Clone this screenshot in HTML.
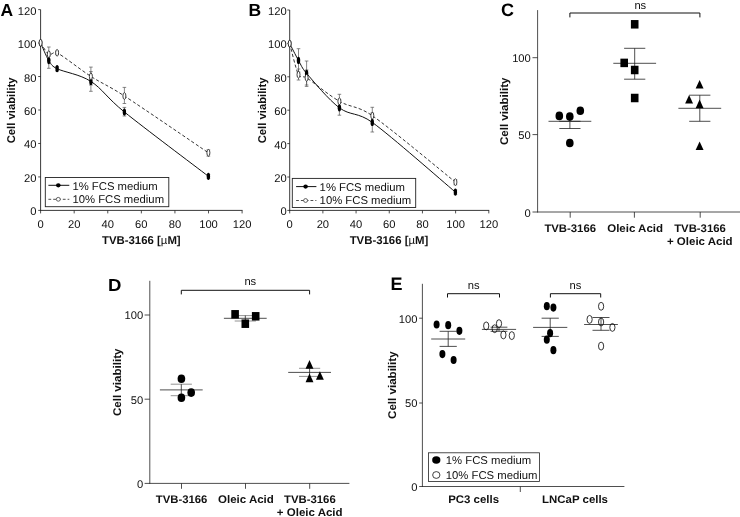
<!DOCTYPE html>
<html lang="en"><head><meta charset="utf-8"><title>Figure</title>
<style>
html,body{margin:0;padding:0;background:#fff;}
body{width:740px;height:517px;overflow:hidden;}
svg{display:block;font-family:"Liberation Sans", Arial, Helvetica, sans-serif;filter:grayscale(1);text-rendering:geometricPrecision;}
</style></head><body>
<svg width="740" height="517" viewBox="0 0 740 517">
<rect width="740" height="517" fill="#fff"/>
<text x="0.6" y="15.6" font-size="17.5" font-weight="bold" text-anchor="start" fill="#000">A</text>
<line x1="40.60" y1="9.60" x2="40.60" y2="210.80" stroke="#222" stroke-width="0.9"/>
<line x1="40.20" y1="210.40" x2="242.50" y2="210.40" stroke="#222" stroke-width="0.9"/>
<line x1="38.20" y1="210.40" x2="40.60" y2="210.40" stroke="#222" stroke-width="0.8"/>
<text x="36.5" y="215.4" font-size="11.2" text-anchor="end" fill="#111">0</text>
<line x1="40.60" y1="210.40" x2="40.60" y2="213.40" stroke="#222" stroke-width="0.8"/>
<text x="40.6" y="227.8" font-size="11.2" text-anchor="middle" fill="#111">0</text>
<line x1="38.20" y1="176.93" x2="40.60" y2="176.93" stroke="#222" stroke-width="0.8"/>
<text x="36.5" y="181.93" font-size="11.2" text-anchor="end" fill="#111">20</text>
<line x1="74.18" y1="210.40" x2="74.18" y2="213.40" stroke="#222" stroke-width="0.8"/>
<text x="74.18" y="227.8" font-size="11.2" text-anchor="middle" fill="#111">20</text>
<line x1="38.20" y1="143.47" x2="40.60" y2="143.47" stroke="#222" stroke-width="0.8"/>
<text x="36.5" y="148.47" font-size="11.2" text-anchor="end" fill="#111">40</text>
<line x1="107.77" y1="210.40" x2="107.77" y2="213.40" stroke="#222" stroke-width="0.8"/>
<text x="107.77" y="227.8" font-size="11.2" text-anchor="middle" fill="#111">40</text>
<line x1="38.20" y1="110.00" x2="40.60" y2="110.00" stroke="#222" stroke-width="0.8"/>
<text x="36.5" y="115.0" font-size="11.2" text-anchor="end" fill="#111">60</text>
<line x1="141.35" y1="210.40" x2="141.35" y2="213.40" stroke="#222" stroke-width="0.8"/>
<text x="141.35" y="227.8" font-size="11.2" text-anchor="middle" fill="#111">60</text>
<line x1="38.20" y1="76.53" x2="40.60" y2="76.53" stroke="#222" stroke-width="0.8"/>
<text x="36.5" y="81.53" font-size="11.2" text-anchor="end" fill="#111">80</text>
<line x1="174.93" y1="210.40" x2="174.93" y2="213.40" stroke="#222" stroke-width="0.8"/>
<text x="174.93" y="227.8" font-size="11.2" text-anchor="middle" fill="#111">80</text>
<line x1="38.20" y1="43.07" x2="40.60" y2="43.07" stroke="#222" stroke-width="0.8"/>
<text x="36.5" y="48.07" font-size="11.2" text-anchor="end" fill="#111">100</text>
<line x1="208.52" y1="210.40" x2="208.52" y2="213.40" stroke="#222" stroke-width="0.8"/>
<text x="208.52" y="227.8" font-size="11.2" text-anchor="middle" fill="#111">100</text>
<line x1="38.20" y1="9.60" x2="40.60" y2="9.60" stroke="#222" stroke-width="0.8"/>
<text x="36.5" y="14.6" font-size="11.2" text-anchor="end" fill="#111">120</text>
<line x1="242.10" y1="210.40" x2="242.10" y2="213.40" stroke="#222" stroke-width="0.8"/>
<text x="242.1" y="227.8" font-size="11.2" text-anchor="middle" fill="#111">120</text>
<text x="141.3" y="244.2" font-size="11.4" font-weight="bold" text-anchor="middle" fill="#111">TVB-3166 [<tspan font-weight="normal">µ</tspan>M]</text>
<text x="14.6" y="110.4" font-size="11.3" font-weight="bold" text-anchor="middle" fill="#111" transform="rotate(-90 14.6 110.4)">Cell viability</text>
<path d="M40.60,42.80 C41.97,44.70 46.05,52.53 48.80,54.20 C51.55,55.87 53.38,50.84 57.10,52.80 C64.12,56.50 79.68,69.20 90.90,76.40 C102.12,83.60 108.13,85.42 124.40,96.00 C143.98,108.73 194.40,143.33 208.40,152.80" fill="none" stroke="#111" stroke-width="0.85" stroke-dasharray="3.2 2.2"/>
<path d="M40.60,42.80 C41.97,45.77 46.05,56.28 48.80,60.60 C51.55,64.92 51.90,66.13 57.10,68.70 C64.12,72.17 79.68,74.18 90.90,81.40 C102.12,88.62 106.75,97.75 124.40,112.00 C143.98,127.82 194.40,165.58 208.40,176.30" fill="none" stroke="#111" stroke-width="1"/>
<line x1="48.80" y1="56.00" x2="48.80" y2="68.30" stroke="#555" stroke-width="0.7"/>
<line x1="47.00" y1="56.00" x2="50.60" y2="56.00" stroke="#555" stroke-width="0.7"/>
<line x1="47.00" y1="68.30" x2="50.60" y2="68.30" stroke="#555" stroke-width="0.7"/>
<line x1="57.10" y1="66.80" x2="57.10" y2="70.80" stroke="#555" stroke-width="0.7"/>
<line x1="55.30" y1="66.80" x2="58.90" y2="66.80" stroke="#555" stroke-width="0.7"/>
<line x1="55.30" y1="70.80" x2="58.90" y2="70.80" stroke="#555" stroke-width="0.7"/>
<line x1="90.90" y1="71.60" x2="90.90" y2="91.30" stroke="#555" stroke-width="0.7"/>
<line x1="89.10" y1="71.60" x2="92.70" y2="71.60" stroke="#555" stroke-width="0.7"/>
<line x1="89.10" y1="91.30" x2="92.70" y2="91.30" stroke="#555" stroke-width="0.7"/>
<line x1="124.40" y1="107.40" x2="124.40" y2="116.00" stroke="#555" stroke-width="0.7"/>
<line x1="122.60" y1="107.40" x2="126.20" y2="107.40" stroke="#555" stroke-width="0.7"/>
<line x1="122.60" y1="116.00" x2="126.20" y2="116.00" stroke="#555" stroke-width="0.7"/>
<line x1="208.40" y1="174.50" x2="208.40" y2="178.30" stroke="#555" stroke-width="0.7"/>
<line x1="206.60" y1="174.50" x2="210.20" y2="174.50" stroke="#555" stroke-width="0.7"/>
<line x1="206.60" y1="178.30" x2="210.20" y2="178.30" stroke="#555" stroke-width="0.7"/>
<line x1="48.80" y1="47.00" x2="48.80" y2="60.00" stroke="#555" stroke-width="0.7"/>
<line x1="47.00" y1="47.00" x2="50.60" y2="47.00" stroke="#555" stroke-width="0.7"/>
<line x1="47.00" y1="60.00" x2="50.60" y2="60.00" stroke="#555" stroke-width="0.7"/>
<line x1="57.10" y1="51.30" x2="57.10" y2="54.30" stroke="#555" stroke-width="0.7"/>
<line x1="55.30" y1="51.30" x2="58.90" y2="51.30" stroke="#555" stroke-width="0.7"/>
<line x1="55.30" y1="54.30" x2="58.90" y2="54.30" stroke="#555" stroke-width="0.7"/>
<line x1="90.90" y1="67.10" x2="90.90" y2="85.00" stroke="#555" stroke-width="0.7"/>
<line x1="89.10" y1="67.10" x2="92.70" y2="67.10" stroke="#555" stroke-width="0.7"/>
<line x1="89.10" y1="85.00" x2="92.70" y2="85.00" stroke="#555" stroke-width="0.7"/>
<line x1="124.40" y1="87.40" x2="124.40" y2="103.50" stroke="#555" stroke-width="0.7"/>
<line x1="122.60" y1="87.40" x2="126.20" y2="87.40" stroke="#555" stroke-width="0.7"/>
<line x1="122.60" y1="103.50" x2="126.20" y2="103.50" stroke="#555" stroke-width="0.7"/>
<line x1="208.40" y1="149.80" x2="208.40" y2="156.20" stroke="#555" stroke-width="0.7"/>
<line x1="206.60" y1="149.80" x2="210.20" y2="149.80" stroke="#555" stroke-width="0.7"/>
<line x1="206.60" y1="156.20" x2="210.20" y2="156.20" stroke="#555" stroke-width="0.7"/>
<ellipse cx="40.60" cy="42.80" rx="1.7" ry="3.6" fill="#000"/>
<ellipse cx="48.80" cy="60.60" rx="1.7" ry="3.6" fill="#000"/>
<ellipse cx="57.10" cy="68.70" rx="1.7" ry="3.6" fill="#000"/>
<ellipse cx="90.90" cy="81.40" rx="1.7" ry="3.6" fill="#000"/>
<ellipse cx="124.40" cy="112.00" rx="1.7" ry="3.6" fill="#000"/>
<ellipse cx="208.40" cy="176.30" rx="1.7" ry="3.6" fill="#000"/>
<ellipse cx="40.60" cy="42.80" rx="1.5" ry="3.3" fill="#fff" stroke="#111" stroke-width="0.8"/>
<ellipse cx="48.80" cy="54.20" rx="1.5" ry="3.3" fill="#fff" stroke="#111" stroke-width="0.8"/>
<ellipse cx="57.10" cy="52.80" rx="1.5" ry="3.3" fill="#fff" stroke="#111" stroke-width="0.8"/>
<ellipse cx="90.90" cy="76.40" rx="1.5" ry="3.3" fill="#fff" stroke="#111" stroke-width="0.8"/>
<ellipse cx="124.40" cy="96.00" rx="1.5" ry="3.3" fill="#fff" stroke="#111" stroke-width="0.8"/>
<ellipse cx="208.40" cy="152.80" rx="1.5" ry="3.3" fill="#fff" stroke="#111" stroke-width="0.8"/>
<rect x="45.3" y="177.5" width="123.50" height="29.20" fill="#fff" stroke="#222" stroke-width="0.9"/>
<line x1="48.40" y1="185.30" x2="69.30" y2="185.30" stroke="#111" stroke-width="1.0"/>
<ellipse cx="58.3" cy="185.3" rx="2.3" ry="2.1" fill="#000"/>
<line x1="48.40" y1="199.30" x2="69.30" y2="199.30" stroke="#222" stroke-width="0.8" stroke-dasharray="2.8 2"/>
<ellipse cx="58.3" cy="199.3" rx="2.0" ry="1.9" fill="#fff" stroke="#222" stroke-width="0.7"/>
<text x="72.4" y="189.5" font-size="11.3" text-anchor="start" fill="#111">1% FCS medium</text>
<text x="72.4" y="203.1" font-size="11.3" text-anchor="start" fill="#111">10% FCS medium</text>
<text x="248.6" y="15.6" font-size="17.5" font-weight="bold" text-anchor="start" fill="#000">B</text>
<line x1="289.70" y1="10.00" x2="289.70" y2="210.80" stroke="#222" stroke-width="0.9"/>
<line x1="289.30" y1="210.40" x2="489.20" y2="210.40" stroke="#222" stroke-width="0.9"/>
<line x1="287.30" y1="210.40" x2="289.70" y2="210.40" stroke="#222" stroke-width="0.8"/>
<text x="286.7" y="215.4" font-size="11.2" text-anchor="end" fill="#111">0</text>
<line x1="289.70" y1="210.40" x2="289.70" y2="213.40" stroke="#222" stroke-width="0.8"/>
<text x="289.7" y="227.8" font-size="11.2" text-anchor="middle" fill="#111">0</text>
<line x1="287.30" y1="177.00" x2="289.70" y2="177.00" stroke="#222" stroke-width="0.8"/>
<text x="286.7" y="182.0" font-size="11.2" text-anchor="end" fill="#111">20</text>
<line x1="322.88" y1="210.40" x2="322.88" y2="213.40" stroke="#222" stroke-width="0.8"/>
<text x="322.88" y="227.8" font-size="11.2" text-anchor="middle" fill="#111">20</text>
<line x1="287.30" y1="143.60" x2="289.70" y2="143.60" stroke="#222" stroke-width="0.8"/>
<text x="286.7" y="148.6" font-size="11.2" text-anchor="end" fill="#111">40</text>
<line x1="356.07" y1="210.40" x2="356.07" y2="213.40" stroke="#222" stroke-width="0.8"/>
<text x="356.07" y="227.8" font-size="11.2" text-anchor="middle" fill="#111">40</text>
<line x1="287.30" y1="110.20" x2="289.70" y2="110.20" stroke="#222" stroke-width="0.8"/>
<text x="286.7" y="115.2" font-size="11.2" text-anchor="end" fill="#111">60</text>
<line x1="389.25" y1="210.40" x2="389.25" y2="213.40" stroke="#222" stroke-width="0.8"/>
<text x="389.25" y="227.8" font-size="11.2" text-anchor="middle" fill="#111">60</text>
<line x1="287.30" y1="76.80" x2="289.70" y2="76.80" stroke="#222" stroke-width="0.8"/>
<text x="286.7" y="81.8" font-size="11.2" text-anchor="end" fill="#111">80</text>
<line x1="422.43" y1="210.40" x2="422.43" y2="213.40" stroke="#222" stroke-width="0.8"/>
<text x="422.43" y="227.8" font-size="11.2" text-anchor="middle" fill="#111">80</text>
<line x1="287.30" y1="43.40" x2="289.70" y2="43.40" stroke="#222" stroke-width="0.8"/>
<text x="286.7" y="48.4" font-size="11.2" text-anchor="end" fill="#111">100</text>
<line x1="455.62" y1="210.40" x2="455.62" y2="213.40" stroke="#222" stroke-width="0.8"/>
<text x="455.62" y="227.8" font-size="11.2" text-anchor="middle" fill="#111">100</text>
<line x1="287.30" y1="10.00" x2="289.70" y2="10.00" stroke="#222" stroke-width="0.8"/>
<text x="286.7" y="15.0" font-size="11.2" text-anchor="end" fill="#111">120</text>
<line x1="488.80" y1="210.40" x2="488.80" y2="213.40" stroke="#222" stroke-width="0.8"/>
<text x="488.8" y="227.8" font-size="11.2" text-anchor="middle" fill="#111">120</text>
<text x="389.0" y="244.2" font-size="11.4" font-weight="bold" text-anchor="middle" fill="#111">TVB-3166 [<tspan font-weight="normal">µ</tspan>M]</text>
<text x="266.3" y="110.4" font-size="11.3" font-weight="bold" text-anchor="middle" fill="#111" transform="rotate(-90 266.3 110.4)">Cell viability</text>
<path d="M289.70,43.60 C291.17,48.78 295.68,69.00 298.50,74.70 C300.42,78.59 302.96,75.44 306.60,77.80 C313.42,82.23 328.45,94.98 339.40,101.30 C350.35,107.62 357.57,105.44 372.30,115.70 C391.63,129.17 441.55,171.03 455.40,182.10" fill="none" stroke="#111" stroke-width="0.85" stroke-dasharray="3.2 2.2"/>
<path d="M289.70,43.60 C291.17,46.40 295.68,55.43 298.50,60.40 C301.32,65.37 301.60,67.60 306.60,73.40 C313.42,81.30 328.45,99.63 339.40,107.80 C350.35,115.97 357.74,111.82 372.30,122.40 C391.63,136.45 441.55,180.48 455.40,192.10" fill="none" stroke="#111" stroke-width="1"/>
<line x1="298.50" y1="48.70" x2="298.50" y2="72.00" stroke="#555" stroke-width="0.7"/>
<line x1="296.70" y1="48.70" x2="300.30" y2="48.70" stroke="#555" stroke-width="0.7"/>
<line x1="296.70" y1="72.00" x2="300.30" y2="72.00" stroke="#555" stroke-width="0.7"/>
<line x1="306.60" y1="61.00" x2="306.60" y2="85.00" stroke="#555" stroke-width="0.7"/>
<line x1="304.80" y1="61.00" x2="308.40" y2="61.00" stroke="#555" stroke-width="0.7"/>
<line x1="304.80" y1="85.00" x2="308.40" y2="85.00" stroke="#555" stroke-width="0.7"/>
<line x1="339.40" y1="100.00" x2="339.40" y2="115.20" stroke="#555" stroke-width="0.7"/>
<line x1="337.60" y1="100.00" x2="341.20" y2="100.00" stroke="#555" stroke-width="0.7"/>
<line x1="337.60" y1="115.20" x2="341.20" y2="115.20" stroke="#555" stroke-width="0.7"/>
<line x1="372.30" y1="113.00" x2="372.30" y2="132.00" stroke="#555" stroke-width="0.7"/>
<line x1="370.50" y1="113.00" x2="374.10" y2="113.00" stroke="#555" stroke-width="0.7"/>
<line x1="370.50" y1="132.00" x2="374.10" y2="132.00" stroke="#555" stroke-width="0.7"/>
<line x1="455.40" y1="190.00" x2="455.40" y2="194.30" stroke="#555" stroke-width="0.7"/>
<line x1="453.60" y1="190.00" x2="457.20" y2="190.00" stroke="#555" stroke-width="0.7"/>
<line x1="453.60" y1="194.30" x2="457.20" y2="194.30" stroke="#555" stroke-width="0.7"/>
<line x1="298.50" y1="69.00" x2="298.50" y2="80.00" stroke="#555" stroke-width="0.7"/>
<line x1="296.70" y1="69.00" x2="300.30" y2="69.00" stroke="#555" stroke-width="0.7"/>
<line x1="296.70" y1="80.00" x2="300.30" y2="80.00" stroke="#555" stroke-width="0.7"/>
<line x1="306.60" y1="70.00" x2="306.60" y2="86.40" stroke="#555" stroke-width="0.7"/>
<line x1="304.80" y1="70.00" x2="308.40" y2="70.00" stroke="#555" stroke-width="0.7"/>
<line x1="304.80" y1="86.40" x2="308.40" y2="86.40" stroke="#555" stroke-width="0.7"/>
<line x1="339.40" y1="94.30" x2="339.40" y2="108.00" stroke="#555" stroke-width="0.7"/>
<line x1="337.60" y1="94.30" x2="341.20" y2="94.30" stroke="#555" stroke-width="0.7"/>
<line x1="337.60" y1="108.00" x2="341.20" y2="108.00" stroke="#555" stroke-width="0.7"/>
<line x1="372.30" y1="107.30" x2="372.30" y2="124.00" stroke="#555" stroke-width="0.7"/>
<line x1="370.50" y1="107.30" x2="374.10" y2="107.30" stroke="#555" stroke-width="0.7"/>
<line x1="370.50" y1="124.00" x2="374.10" y2="124.00" stroke="#555" stroke-width="0.7"/>
<line x1="455.40" y1="179.60" x2="455.40" y2="184.80" stroke="#555" stroke-width="0.7"/>
<line x1="453.60" y1="179.60" x2="457.20" y2="179.60" stroke="#555" stroke-width="0.7"/>
<line x1="453.60" y1="184.80" x2="457.20" y2="184.80" stroke="#555" stroke-width="0.7"/>
<ellipse cx="289.70" cy="43.60" rx="1.7" ry="3.6" fill="#000"/>
<ellipse cx="298.50" cy="60.40" rx="1.7" ry="3.6" fill="#000"/>
<ellipse cx="306.60" cy="73.40" rx="1.7" ry="3.6" fill="#000"/>
<ellipse cx="339.40" cy="107.80" rx="1.7" ry="3.6" fill="#000"/>
<ellipse cx="372.30" cy="122.40" rx="1.7" ry="3.6" fill="#000"/>
<ellipse cx="455.40" cy="192.10" rx="1.7" ry="3.6" fill="#000"/>
<ellipse cx="289.70" cy="43.60" rx="1.5" ry="3.3" fill="#fff" stroke="#111" stroke-width="0.8"/>
<ellipse cx="298.50" cy="74.70" rx="1.5" ry="3.3" fill="#fff" stroke="#111" stroke-width="0.8"/>
<ellipse cx="306.60" cy="77.80" rx="1.5" ry="3.3" fill="#fff" stroke="#111" stroke-width="0.8"/>
<ellipse cx="339.40" cy="101.30" rx="1.5" ry="3.3" fill="#fff" stroke="#111" stroke-width="0.8"/>
<ellipse cx="372.30" cy="115.70" rx="1.5" ry="3.3" fill="#fff" stroke="#111" stroke-width="0.8"/>
<ellipse cx="455.40" cy="182.10" rx="1.5" ry="3.3" fill="#fff" stroke="#111" stroke-width="0.8"/>
<rect x="292.3" y="178.4" width="123.40" height="29.10" fill="#fff" stroke="#222" stroke-width="0.9"/>
<line x1="296.10" y1="186.60" x2="316.40" y2="186.60" stroke="#111" stroke-width="1.0"/>
<ellipse cx="305.6" cy="186.6" rx="2.3" ry="2.1" fill="#000"/>
<line x1="296.10" y1="200.50" x2="316.40" y2="200.50" stroke="#222" stroke-width="0.8" stroke-dasharray="2.8 2"/>
<ellipse cx="305.6" cy="200.5" rx="2.0" ry="1.9" fill="#fff" stroke="#222" stroke-width="0.7"/>
<text x="319.6" y="190.5" font-size="11.3" text-anchor="start" fill="#111">1% FCS medium</text>
<text x="319.6" y="204.4" font-size="11.3" text-anchor="start" fill="#111">10% FCS medium</text>
<text x="501.0" y="16.1" font-size="18" font-weight="bold" text-anchor="start" fill="#000">C</text>
<line x1="537.60" y1="10.10" x2="537.60" y2="212.40" stroke="#222" stroke-width="0.8"/>
<line x1="537.20" y1="212.00" x2="740.00" y2="212.00" stroke="#222" stroke-width="0.8"/>
<line x1="532.50" y1="212.00" x2="537.60" y2="212.00" stroke="#222" stroke-width="0.8"/>
<text x="530.8" y="216.5" font-size="11.2" text-anchor="end" fill="#111">0</text>
<line x1="532.50" y1="134.60" x2="537.60" y2="134.60" stroke="#222" stroke-width="0.8"/>
<text x="530.8" y="139.1" font-size="11.2" text-anchor="end" fill="#111">50</text>
<line x1="532.50" y1="57.70" x2="537.60" y2="57.70" stroke="#222" stroke-width="0.8"/>
<text x="530.8" y="62.2" font-size="11.2" text-anchor="end" fill="#111">100</text>
<line x1="570.20" y1="212.00" x2="570.20" y2="217.70" stroke="#222" stroke-width="0.8"/>
<line x1="634.40" y1="212.00" x2="634.40" y2="217.70" stroke="#222" stroke-width="0.8"/>
<line x1="700.20" y1="212.00" x2="700.20" y2="217.70" stroke="#222" stroke-width="0.8"/>
<text transform="translate(570.2 231.7) scale(1.03 1)" font-size="11" font-weight="bold" text-anchor="middle" fill="#111">TVB-3166</text>
<text transform="translate(635.1 231.7) scale(1.045 1)" font-size="11" font-weight="bold" text-anchor="middle" fill="#111">Oleic Acid</text>
<text transform="translate(700.0 231.7) scale(1.03 1)" font-size="11" font-weight="bold" text-anchor="middle" fill="#111">TVB-3166</text>
<text transform="translate(699.8 245.2) scale(1.045 1)" font-size="11" font-weight="bold" text-anchor="middle" fill="#111">+ Oleic Acid</text>
<text transform="translate(508.2 111.3) rotate(-90) scale(1.035 1)" font-size="11.2" font-weight="bold" text-anchor="middle" fill="#111">Cell viability</text>
<path d="M569.9,17.4 V13.0 H699.9 V17.4" fill="none" stroke="#111" stroke-width="1"/>
<text x="640.3" y="9.0" font-size="11.2" text-anchor="middle" fill="#111">ns</text>
<line x1="548.50" y1="121.30" x2="591.30" y2="121.30" stroke="#222" stroke-width="0.8"/>
<line x1="569.90" y1="121.30" x2="569.90" y2="128.50" stroke="#222" stroke-width="0.8"/>
<line x1="559.30" y1="121.30" x2="580.50" y2="121.30" stroke="#222" stroke-width="0.8"/>
<line x1="559.30" y1="128.50" x2="580.50" y2="128.50" stroke="#222" stroke-width="0.8"/>
<line x1="613.30" y1="63.30" x2="656.10" y2="63.30" stroke="#222" stroke-width="0.8"/>
<line x1="634.70" y1="48.30" x2="634.70" y2="79.20" stroke="#222" stroke-width="0.8"/>
<line x1="624.10" y1="48.30" x2="645.30" y2="48.30" stroke="#222" stroke-width="0.8"/>
<line x1="624.10" y1="79.20" x2="645.30" y2="79.20" stroke="#222" stroke-width="0.8"/>
<line x1="678.40" y1="108.30" x2="721.20" y2="108.30" stroke="#222" stroke-width="0.8"/>
<line x1="699.80" y1="95.20" x2="699.80" y2="121.30" stroke="#222" stroke-width="0.8"/>
<line x1="689.20" y1="95.20" x2="710.40" y2="95.20" stroke="#222" stroke-width="0.8"/>
<line x1="689.20" y1="121.30" x2="710.40" y2="121.30" stroke="#222" stroke-width="0.8"/>
<ellipse cx="559.3" cy="115.9" rx="3.8" ry="4.3" fill="#000"/>
<ellipse cx="569.8" cy="116.6" rx="3.8" ry="4.3" fill="#000"/>
<ellipse cx="580.3" cy="110.8" rx="3.8" ry="4.3" fill="#000"/>
<ellipse cx="569.8" cy="143.0" rx="3.8" ry="4.3" fill="#000"/>
<rect x="630.90" y="20.05" width="7.6" height="8.5" fill="#000"/>
<rect x="620.40" y="58.65" width="7.6" height="8.5" fill="#000"/>
<rect x="630.90" y="65.75" width="7.6" height="8.5" fill="#000"/>
<rect x="630.90" y="93.75" width="7.6" height="8.5" fill="#000"/>
<path d="M699.60,79.90 L703.55,88.50 L695.65,88.50Z" fill="#000"/>
<path d="M689.10,94.90 L693.05,103.50 L685.15,103.50Z" fill="#000"/>
<path d="M699.60,99.60 L703.55,108.20 L695.65,108.20Z" fill="#000"/>
<path d="M699.60,141.40 L703.55,150.00 L695.65,150.00Z" fill="#000"/>
<text transform="translate(107.9 291.0) scale(1.06 1)" font-size="17.5" font-weight="bold" text-anchor="start" fill="#000">D</text>
<line x1="149.80" y1="280.80" x2="149.80" y2="483.80" stroke="#222" stroke-width="0.8"/>
<line x1="149.40" y1="483.40" x2="349.40" y2="483.40" stroke="#222" stroke-width="0.8"/>
<line x1="144.60" y1="483.40" x2="149.80" y2="483.40" stroke="#222" stroke-width="0.8"/>
<text x="143.2" y="487.8" font-size="11.2" text-anchor="end" fill="#111">0</text>
<line x1="144.60" y1="399.20" x2="149.80" y2="399.20" stroke="#222" stroke-width="0.8"/>
<text x="143.2" y="403.6" font-size="11.2" text-anchor="end" fill="#111">50</text>
<line x1="144.60" y1="315.00" x2="149.80" y2="315.00" stroke="#222" stroke-width="0.8"/>
<text x="143.2" y="319.4" font-size="11.2" text-anchor="end" fill="#111">100</text>
<line x1="181.50" y1="483.40" x2="181.50" y2="488.80" stroke="#222" stroke-width="0.8"/>
<line x1="245.50" y1="483.40" x2="245.50" y2="488.80" stroke="#222" stroke-width="0.8"/>
<line x1="309.70" y1="483.40" x2="309.70" y2="488.80" stroke="#222" stroke-width="0.8"/>
<text transform="translate(181.6 503.0) scale(1.03 1)" font-size="11" font-weight="bold" text-anchor="middle" fill="#111">TVB-3166</text>
<text transform="translate(245.9 503.0) scale(1.045 1)" font-size="11" font-weight="bold" text-anchor="middle" fill="#111">Oleic Acid</text>
<text transform="translate(309.9 503.0) scale(1.03 1)" font-size="11" font-weight="bold" text-anchor="middle" fill="#111">TVB-3166</text>
<text transform="translate(309.7 515.9) scale(1.045 1)" font-size="11" font-weight="bold" text-anchor="middle" fill="#111">+ Oleic Acid</text>
<text transform="translate(121.4 382.3) rotate(-90) scale(1.035 1)" font-size="11.2" font-weight="bold" text-anchor="middle" fill="#111">Cell viability</text>
<path d="M181.3,294.4 V290.3 H309.6 V294.4" fill="none" stroke="#111" stroke-width="1"/>
<text x="250.3" y="285.0" font-size="11.2" text-anchor="middle" fill="#111">ns</text>
<line x1="170.70" y1="384.20" x2="191.90" y2="384.20" stroke="#777" stroke-width="0.8"/>
<line x1="170.70" y1="395.70" x2="191.90" y2="395.70" stroke="#777" stroke-width="0.8"/>
<line x1="181.30" y1="384.20" x2="181.30" y2="395.70" stroke="#222" stroke-width="0.8"/>
<line x1="159.90" y1="389.90" x2="202.70" y2="389.90" stroke="#222" stroke-width="0.8"/>
<line x1="234.70" y1="315.60" x2="255.90" y2="315.60" stroke="#777" stroke-width="0.8"/>
<line x1="234.70" y1="321.00" x2="255.90" y2="321.00" stroke="#777" stroke-width="0.8"/>
<line x1="245.30" y1="315.60" x2="245.30" y2="321.00" stroke="#222" stroke-width="0.8"/>
<line x1="223.90" y1="318.30" x2="266.70" y2="318.30" stroke="#222" stroke-width="0.8"/>
<line x1="299.00" y1="368.30" x2="320.20" y2="368.30" stroke="#777" stroke-width="0.8"/>
<line x1="299.00" y1="376.40" x2="320.20" y2="376.40" stroke="#777" stroke-width="0.8"/>
<line x1="309.60" y1="368.30" x2="309.60" y2="376.40" stroke="#222" stroke-width="0.8"/>
<line x1="288.20" y1="372.40" x2="331.00" y2="372.40" stroke="#222" stroke-width="0.8"/>
<ellipse cx="181.4" cy="378.8" rx="3.8" ry="4.3" fill="#000"/>
<ellipse cx="191.2" cy="392.6" rx="3.8" ry="4.3" fill="#000"/>
<ellipse cx="181.4" cy="397.7" rx="3.8" ry="4.3" fill="#000"/>
<rect x="231.30" y="310.05" width="7.6" height="8.5" fill="#000"/>
<rect x="251.90" y="312.05" width="7.6" height="8.5" fill="#000"/>
<rect x="241.50" y="319.45" width="7.6" height="8.5" fill="#000"/>
<path d="M309.50,360.10 L313.45,368.70 L305.55,368.70Z" fill="#000"/>
<path d="M319.90,371.20 L323.85,379.80 L315.95,379.80Z" fill="#000"/>
<path d="M309.50,373.60 L313.45,382.20 L305.55,382.20Z" fill="#000"/>
<text x="390.6" y="290.2" font-size="18" font-weight="bold" text-anchor="start" fill="#000">E</text>
<line x1="422.40" y1="283.80" x2="422.40" y2="486.90" stroke="#222" stroke-width="0.8"/>
<line x1="422.00" y1="486.50" x2="624.40" y2="486.50" stroke="#222" stroke-width="0.8"/>
<line x1="419.20" y1="486.50" x2="422.40" y2="486.50" stroke="#222" stroke-width="0.8"/>
<text x="417.4" y="490.8" font-size="11.2" text-anchor="end" fill="#111">0</text>
<line x1="419.20" y1="403.00" x2="422.40" y2="403.00" stroke="#222" stroke-width="0.8"/>
<text x="417.4" y="407.3" font-size="11.2" text-anchor="end" fill="#111">50</text>
<line x1="419.20" y1="318.20" x2="422.40" y2="318.20" stroke="#222" stroke-width="0.8"/>
<text x="417.4" y="322.5" font-size="11.2" text-anchor="end" fill="#111">100</text>
<line x1="520.30" y1="486.50" x2="520.30" y2="492.00" stroke="#222" stroke-width="0.8"/>
<text transform="translate(473.6 502.6) scale(1.04 1)" font-size="11" font-weight="bold" text-anchor="middle" fill="#111">PC3 cells</text>
<text transform="translate(575.0 502.6) scale(1.04 1)" font-size="11" font-weight="bold" text-anchor="middle" fill="#111">LNCaP cells</text>
<text transform="translate(395.7 385.2) rotate(-90) scale(1.035 1)" font-size="11.2" font-weight="bold" text-anchor="middle" fill="#111">Cell viability</text>
<path d="M447.5,297.5 V293.7 H499.5 V297.5" fill="none" stroke="#111" stroke-width="1"/>
<text x="473.6" y="288.8" font-size="11.2" text-anchor="middle" fill="#111">ns</text>
<path d="M550.4,297.5 V293.7 H600.7 V297.5" fill="none" stroke="#111" stroke-width="1"/>
<text x="575.4" y="288.8" font-size="11.2" text-anchor="middle" fill="#111">ns</text>
<line x1="431.20" y1="339.00" x2="465.20" y2="339.00" stroke="#222" stroke-width="0.8"/>
<line x1="448.20" y1="331.30" x2="448.20" y2="346.40" stroke="#222" stroke-width="0.8"/>
<line x1="439.60" y1="331.30" x2="456.80" y2="331.30" stroke="#222" stroke-width="0.8"/>
<line x1="439.60" y1="346.40" x2="456.80" y2="346.40" stroke="#222" stroke-width="0.8"/>
<line x1="481.90" y1="329.40" x2="516.10" y2="329.40" stroke="#222" stroke-width="0.8"/>
<line x1="499.00" y1="327.20" x2="499.00" y2="331.30" stroke="#222" stroke-width="0.8"/>
<line x1="490.60" y1="327.20" x2="507.40" y2="327.20" stroke="#222" stroke-width="0.8"/>
<line x1="490.60" y1="331.30" x2="507.40" y2="331.30" stroke="#222" stroke-width="0.8"/>
<line x1="533.10" y1="327.40" x2="567.30" y2="327.40" stroke="#222" stroke-width="0.8"/>
<line x1="550.20" y1="318.20" x2="550.20" y2="336.40" stroke="#222" stroke-width="0.8"/>
<line x1="541.60" y1="318.20" x2="558.80" y2="318.20" stroke="#222" stroke-width="0.8"/>
<line x1="541.60" y1="336.40" x2="558.80" y2="336.40" stroke="#222" stroke-width="0.8"/>
<line x1="584.10" y1="324.50" x2="617.90" y2="324.50" stroke="#222" stroke-width="0.8"/>
<line x1="601.00" y1="317.50" x2="601.00" y2="330.30" stroke="#222" stroke-width="0.8"/>
<line x1="592.50" y1="317.50" x2="609.50" y2="317.50" stroke="#222" stroke-width="0.8"/>
<line x1="592.50" y1="330.30" x2="609.50" y2="330.30" stroke="#222" stroke-width="0.8"/>
<ellipse cx="436.6" cy="324.5" rx="3.0" ry="4.1" fill="#000"/>
<ellipse cx="448.2" cy="325.2" rx="3.0" ry="4.1" fill="#000"/>
<ellipse cx="459.4" cy="330.8" rx="3.0" ry="4.1" fill="#000"/>
<ellipse cx="442.4" cy="354.1" rx="3.0" ry="4.1" fill="#000"/>
<ellipse cx="453.6" cy="360.0" rx="3.0" ry="4.1" fill="#000"/>
<ellipse cx="486.2" cy="325.9" rx="2.6" ry="3.95" fill="none" stroke="#111" stroke-width="0.85"/>
<ellipse cx="499.0" cy="323.6" rx="2.6" ry="3.95" fill="none" stroke="#111" stroke-width="0.85"/>
<ellipse cx="494.7" cy="328.7" rx="2.6" ry="3.95" fill="none" stroke="#111" stroke-width="0.85"/>
<ellipse cx="503.4" cy="334.9" rx="2.6" ry="3.95" fill="none" stroke="#111" stroke-width="0.85"/>
<ellipse cx="511.8" cy="335.6" rx="2.6" ry="3.95" fill="none" stroke="#111" stroke-width="0.85"/>
<ellipse cx="546.8" cy="306.2" rx="3.0" ry="4.1" fill="#000"/>
<ellipse cx="553.4" cy="307.6" rx="3.0" ry="4.1" fill="#000"/>
<ellipse cx="550.1" cy="333.2" rx="3.0" ry="4.1" fill="#000"/>
<ellipse cx="546.8" cy="339.7" rx="3.0" ry="4.1" fill="#000"/>
<ellipse cx="553.4" cy="350.2" rx="3.0" ry="4.1" fill="#000"/>
<ellipse cx="601.1" cy="306.3" rx="2.6" ry="3.95" fill="none" stroke="#111" stroke-width="0.85"/>
<ellipse cx="589.6" cy="319.4" rx="2.6" ry="3.95" fill="none" stroke="#111" stroke-width="0.85"/>
<ellipse cx="601.1" cy="322.0" rx="2.6" ry="3.95" fill="none" stroke="#111" stroke-width="0.85"/>
<ellipse cx="612.4" cy="327.4" rx="2.6" ry="3.95" fill="none" stroke="#111" stroke-width="0.85"/>
<ellipse cx="601.1" cy="346.1" rx="2.6" ry="3.95" fill="none" stroke="#111" stroke-width="0.85"/>
<rect x="428.4" y="452.8" width="111.2" height="28.8" fill="#fff" stroke="#222" stroke-width="0.8"/>
<ellipse cx="436.3" cy="459.9" rx="4.1" ry="3.75" fill="#000"/>
<ellipse cx="436.3" cy="475.0" rx="3.65" ry="3.4" fill="#fff" stroke="#111" stroke-width="0.8"/>
<text x="445.8" y="464.0" font-size="11.3" text-anchor="start" fill="#111">1% FCS medium</text>
<text x="445.8" y="479.0" font-size="11.3" text-anchor="start" fill="#111">10% FCS medium</text>
</svg>
</body></html>
